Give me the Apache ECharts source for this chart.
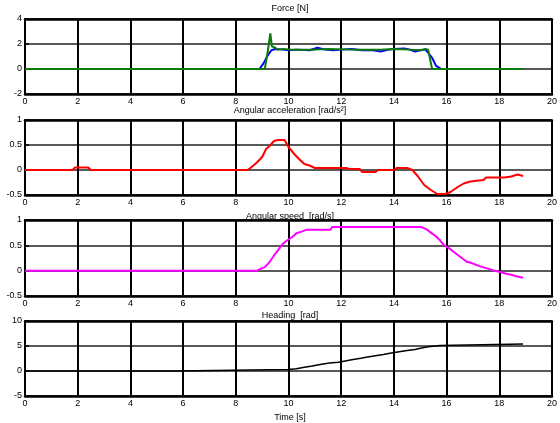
<!DOCTYPE html>
<html>
<head>
<meta charset="utf-8">
<script src="https://cdn.jsdelivr.net/npm/echarts@6/dist/echarts.min.js"></script>
<style>
  html, body { margin: 0; padding: 0; background: #fff; }
  #chart { width: 560px; height: 423px; }
</style>
</head>
<body>
<div id="chart"></div>
<script>
// Time ticks shared by every panel
const timeTicks = [0, 2, 4, 6, 8, 10, 12, 14, 16, 18, 20];

// Force [N] — two traces
const forceBlueT = [0, 8.9, 9.05, 9.2, 9.35, 9.5, 9.8, 10.0, 10.3, 10.8, 11.1, 11.4, 11.7, 12.0, 12.4, 12.8, 13.2, 13.5, 13.8, 14.0, 14.4, 14.6, 14.8, 15.0, 15.2, 15.3, 15.45, 15.6, 15.8, 16.5, 18.9];
const forceBlueV = [0, 0, 0.45, 1.05, 1.5, 1.6, 1.55, 1.5, 1.55, 1.5, 1.7, 1.55, 1.5, 1.55, 1.6, 1.5, 1.5, 1.4, 1.55, 1.6, 1.65, 1.55, 1.4, 1.5, 1.55, 1.3, 0.9, 0.25, 0, 0, 0];
const forceGreenT = [0, 9.1, 9.22, 9.31, 9.37, 9.45, 9.6, 9.8, 10.1, 11.0, 11.5, 12.5, 13.5, 14.0, 14.6, 15.0, 15.2, 15.3, 15.45, 16.0, 18.9];
const forceGreenV = [0, 0, 1.5, 2.85, 1.8, 1.75, 1.55, 1.6, 1.55, 1.55, 1.6, 1.55, 1.55, 1.6, 1.55, 1.5, 1.6, 1.55, 0, 0, 0];

// Angular acceleration [rad/s²]
const accelT = [0, 1.8, 1.9, 2.4, 2.5, 8.45, 8.6, 8.8, 9.0, 9.15, 9.3, 9.45, 9.6, 9.85, 10.0, 10.2, 10.4, 10.6, 10.8, 11.0, 12.2, 12.3, 12.7, 12.8, 13.3, 13.4, 14.0, 14.1, 14.5, 14.7, 14.9, 15.15, 15.4, 15.65, 15.95, 16.15, 16.45, 16.65, 16.9, 17.4, 17.5, 18.2, 18.45, 18.7, 18.9];
const accelV = [0, 0, 0.05, 0.05, 0, 0, 0.06, 0.15, 0.26, 0.42, 0.49, 0.58, 0.6, 0.6, 0.46, 0.33, 0.22, 0.12, 0.09, 0.04, 0.04, 0.02, 0.02, -0.04, -0.04, 0, 0, 0.04, 0.04, 0.0, -0.12, -0.3, -0.4, -0.48, -0.48, -0.44, -0.33, -0.27, -0.23, -0.2, -0.15, -0.15, -0.13, -0.09, -0.12];

// Angular speed [rad/s]
const speedT = [0, 8.8, 9.0, 9.1, 9.27, 9.45, 9.6, 9.75, 9.9, 10.13, 10.3, 10.5, 10.7, 11.6, 11.65, 15.0, 15.1, 15.26, 15.4, 15.57, 15.75, 15.89, 16.13, 16.3, 16.5, 16.75, 17.0, 17.25, 17.5, 17.75, 18.0, 18.26, 18.45, 18.64, 18.9];
const speedV = [0, 0, 0.05, 0.07, 0.16, 0.3, 0.4, 0.51, 0.58, 0.66, 0.74, 0.77, 0.81, 0.81, 0.86, 0.86, 0.85, 0.81, 0.75, 0.69, 0.6, 0.51, 0.43, 0.36, 0.28, 0.18, 0.14, 0.09, 0.05, 0.01, -0.02, -0.06, -0.08, -0.11, -0.14];

// Heading [rad] — value held from each time onward
const headingT = [0, 5.75, 10.0, 10.3, 10.55, 10.9, 11.2, 11.55, 11.9, 12.15, 12.45, 12.75, 13.0, 13.3, 13.6, 13.9, 14.2, 14.5, 14.8, 15.05, 15.3, 15.75, 18.9];
const headingV = [0, 0.3, 0.45, 0.7, 1.0, 1.3, 1.6, 1.75, 2.0, 2.3, 2.55, 2.8, 3.05, 3.3, 3.6, 3.85, 4.1, 4.3, 4.6, 4.85, 5.1, 5.4, 5.4];

// Y ranges per panel
const yRanges = [
  { min: -2, max: 4, interval: 2 },
  { min: -0.5, max: 1, interval: 0.5 },
  { min: -0.5, max: 1, interval: 0.5 },
  { min: -5, max: 10, interval: 5 }
];
const panelTitles = ['Force [N]', 'Angular acceleration [rad/s²]', 'Angular speed  [rad/s]', 'Heading  [rad]'];
const xLabel = 'Time [s]';

const FONT = 'Liberation Sans, Arial, sans-serif';
const grids = [
  { top: 19, height: 75 },
  { top: 120, height: 75 },
  { top: 220, height: 76 },
  { top: 321, height: 75 }
];
const titleTops = [4, 106.5, 212, 311, 413];

function pairs(t, v) { return t.map((x, i) => [x, v[i]]); }

const titleStyle = { fontFamily: FONT, fontSize: 9, fontWeight: 'normal', color: '#000' };

const option = {
  animation: false,
  backgroundColor: '#fff',
  title: panelTitles.concat([xLabel]).map((txt, i) => ({
    text: txt,
    left: 290, top: titleTops[i], padding: 0,
    textAlign: 'center',
    textStyle: titleStyle
  })),
  grid: grids.map(g => ({
    left: 25, right: 5, top: g.top, height: g.height,
    show: true, borderColor: '#000', borderWidth: 1, backgroundColor: 'transparent'
  })),
  xAxis: [],
  yAxis: [],
  series: []
};

for (let i = 0; i < 4; i++) {
  // bottom time axis with vertical grid lines
  option.xAxis.push({
    type: 'value', gridIndex: i, min: 0, max: 20, interval: 2,
    axisLine: { show: true, onZero: false, lineStyle: { color: '#000', width: 2.5 } },
    axisTick: { show: false },
    splitLine: { show: true, lineStyle: { color: '#000', width: 2 } },
    axisLabel: { fontFamily: FONT, fontSize: 9, color: '#000', margin: 3 }
  });
  // heavy top frame edge
  option.xAxis.push({
    type: 'value', gridIndex: i, min: 0, max: 20, position: 'top',
    axisLine: { show: true, onZero: false, lineStyle: { color: '#000', width: 2.5 } },
    axisTick: { show: false }, axisLabel: { show: false }, splitLine: { show: false }
  });
  option.yAxis.push({
    type: 'value', gridIndex: i,
    min: yRanges[i].min, max: yRanges[i].max, interval: yRanges[i].interval,
    axisLine: { show: true, onZero: false, lineStyle: { color: '#000', width: 2 } },
    axisTick: { show: true, inside: true, length: 4, lineStyle: { color: '#000', width: 1.5 } },
    splitLine: { show: true, lineStyle: { color: '#222', width: 1.5 } },
    axisLabel: { fontFamily: FONT, fontSize: 9, color: '#000', margin: 3 }
  });
}

function line(idx, t, v, color, width, extra) {
  return Object.assign({
    type: 'line', xAxisIndex: idx * 2, yAxisIndex: idx,
    data: pairs(t, v), showSymbol: false, symbol: 'none',
    lineStyle: { color: color, width: width }, z: 5
  }, extra || {});
}

option.series.push(line(0, forceBlueT, forceBlueV, '#0000ff', 2));
option.series.push(line(0, forceGreenT, forceGreenV, '#0a7a0a', 2));
option.series.push(line(1, accelT, accelV, '#ff0000', 2));
option.series.push(line(2, speedT, speedV, '#ff00ff', 2));
option.series.push(line(3, headingT, headingV, '#000000', 1.5, { step: 'end' }));

const chart = echarts.init(document.getElementById('chart'), null, { renderer: 'canvas' });
chart.setOption(option);
</script>
</body>
</html>
